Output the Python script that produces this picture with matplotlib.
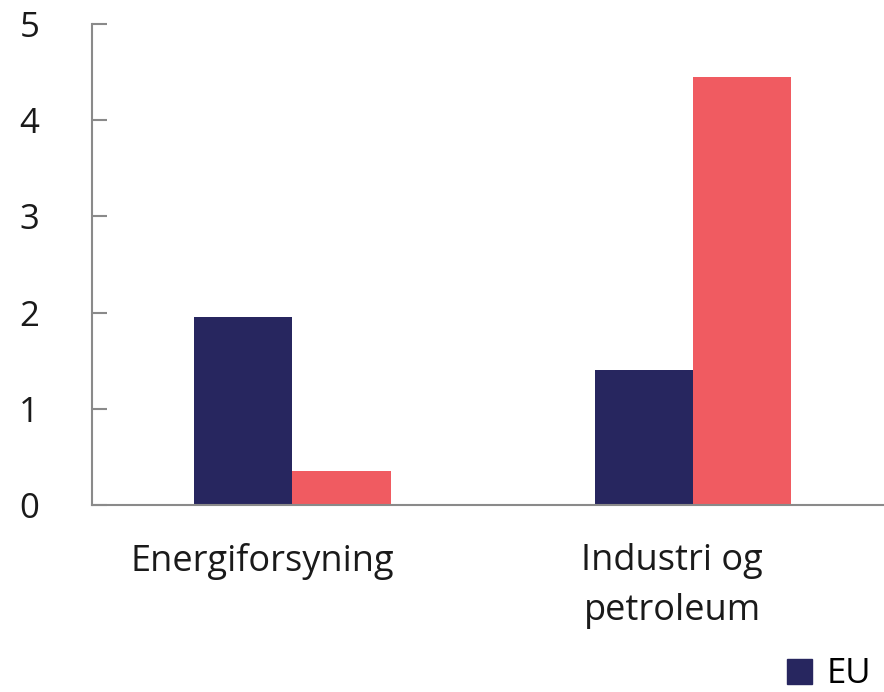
import numpy as np
import matplotlib.pyplot as plt
import matplotlib.transforms as mtransforms
from matplotlib.patches import Patch

# Data
kategorier = ["Energiforsyning", "Industri og\npetroleum"]
eu = [1.95, 1.40]
norge = [0.35, 4.45]

plt.rcParams['font.family'] = ['Open Sans', 'DejaVu Sans']

fig = plt.figure(figsize=(8.84, 6.92), dpi=100)
ax = fig.add_axes([0.104, 0.2702, 0.9068, 0.6951])

x = np.arange(len(kategorier))
bredde = 0.245
ax.bar(x - bredde / 2, eu, width=bredde, color='#27265f', label='EU')
ax.bar(x + bredde / 2, norge, width=bredde, color='#f05b61')

ax.set_xlim(-0.5, 1.5)
ax.set_ylim(0, 5)
ax.set_yticks(range(0, 6))

for s in ['top', 'right']:
    ax.spines[s].set_visible(False)
for s in ['left', 'bottom']:
    ax.spines[s].set_color('#8a8a8a')
    ax.spines[s].set_linewidth(1.5)

ax.tick_params(axis='y', direction='in', length=11, width=1.5, color='#8a8a8a',
               labelsize=25, pad=38, labelcolor='#1a1a1a')
ax.set_xticks(x)
ax.set_xticklabels(kategorier, fontsize=26, color='#1a1a1a', linespacing=1.55)
ax.tick_params(axis='x', length=0, pad=27)
# labels sit a little left of the bar pairs
for lab, dx in zip(ax.get_xticklabels(), [-30, -21]):
    offset = mtransforms.ScaledTranslation(dx / 100, 0, fig.dpi_scale_trans)
    lab.set_transform(lab.get_transform() + offset)

handles = [Patch(color='#27265f', label='EU')]
fig.legend(handles=handles, loc='lower right', bbox_to_anchor=(0.99, -0.004),
           frameon=False, fontsize=25, handlelength=0.72, handleheight=0.72,
           handletextpad=0.42, borderaxespad=0.0, borderpad=0.1)

fig.savefig('out.png', dpi=100)
